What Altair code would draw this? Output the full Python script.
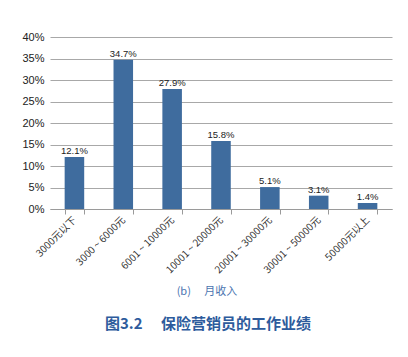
import altair as alt
import pandas as pd

categories = ["3000元以下", "3000 ~ 6000元", "6001 ~ 10000元", "10001 ~ 20000元",
              "20001 ~ 30000元", "30001 ~ 50000元", "50000元以上"]
values = [12.1, 34.7, 27.9, 15.8, 5.1, 3.1, 1.4]
y_ticks = [0, 5, 10, 15, 20, 25, 30, 35, 40]
subtitle = "(b)\u3000 月收入"
main_title = "图3.2\u3000 保险营销员的工作业绩"

df = pd.DataFrame({"cat": categories, "val": values,
                   "lbl": [f"{v:.1f}%" for v in values]})

FONT = "Noto Sans CJK SC"

x = alt.X("cat:N", sort=categories,
          scale=alt.Scale(paddingInner=0.6, paddingOuter=0.3),
          axis=alt.Axis(title=None, labelAngle=-45, labelAlign="right",
                        labelBaseline="middle", labelFontSize=10,
                        labelFont=FONT, labelColor="#333333", labelPadding=4,
                        domainColor="#9a9a9a", tickColor="#9a9a9a",
                        tickBand="extent", tickSize=5, grid=False))
y = alt.Y("val:Q", scale=alt.Scale(domain=[0, 40]),
          axis=alt.Axis(title=None, values=y_ticks, labelExpr="datum.value + '%'",
                        labelFontSize=11, labelFont="Liberation Sans",
                        labelColor="#222222", ticks=False, domain=False,
                        gridColor="#a8a8a8", gridWidth=1, labelPadding=6))

base = alt.Chart(df)
bars = base.mark_bar(color="#3F6C9E").encode(x=x, y=y)
labels = base.mark_text(dy=-6, fontSize=9.5, font="Liberation Sans",
                        color="#222222").encode(x=x, y=y, text="lbl:N")

one = pd.DataFrame({"t": [subtitle]})
sub = alt.Chart(one).mark_text(font=FONT, fontSize=11, color="#4A74B0",
                               baseline="middle").encode(
    x=alt.value(157), y=alt.value(255), text="t:N")
two = pd.DataFrame({"t": [main_title]})
ttl = alt.Chart(two).mark_text(font=FONT, fontSize=15, fontWeight="bold",
                               color="#2D5B9C", baseline="middle").encode(
    x=alt.value(158), y=alt.value(287), text="t:N")

chart = alt.layer(bars, labels, sub, ttl).properties(
    width=342, height=172,
    autosize=alt.AutoSizeParams(type="none"),
    padding={"left": 42, "top": 29, "right": 8, "bottom": 132},
    background="white",
).configure_view(stroke=None)

chart.save("out.html", embed_options={"renderer": "svg", "actions": False})
